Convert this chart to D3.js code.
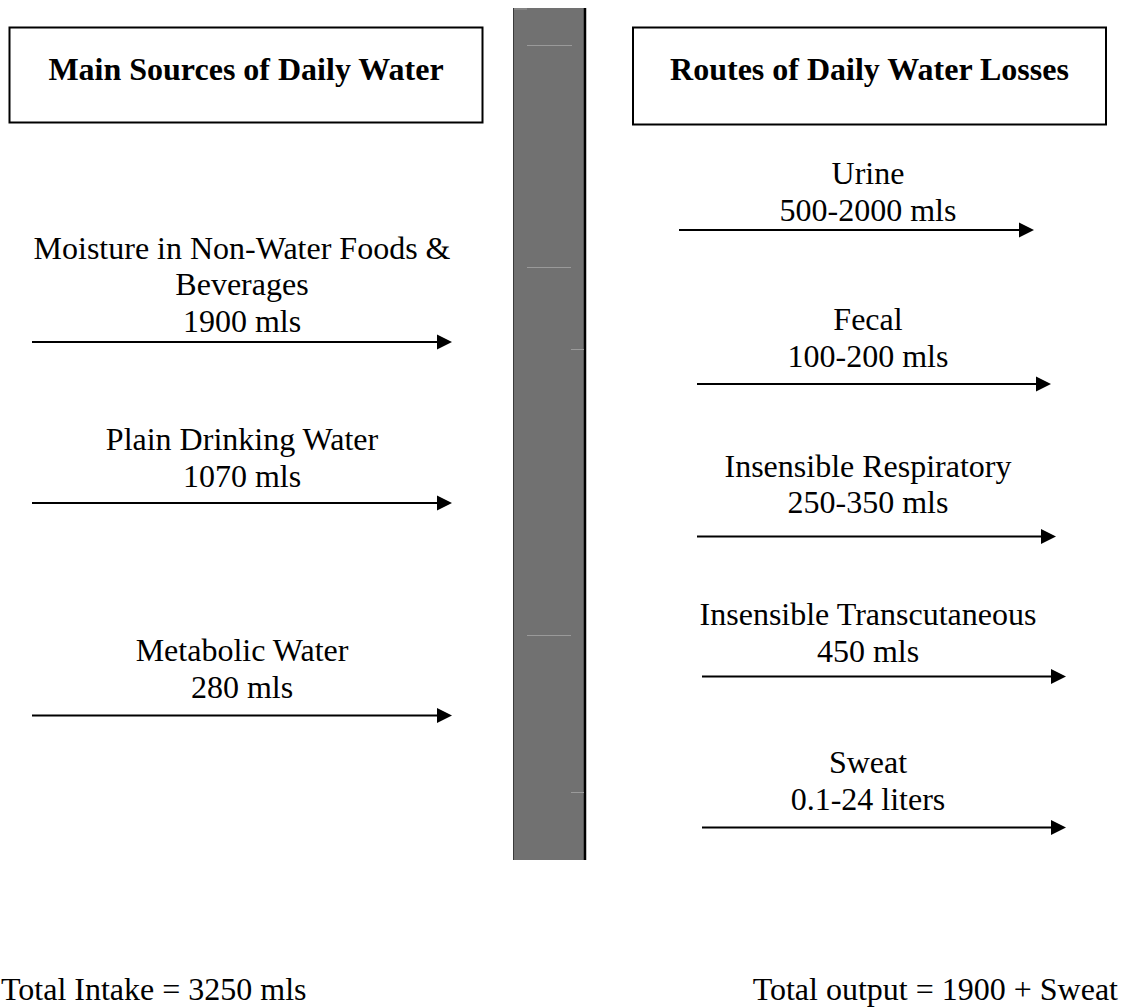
<!DOCTYPE html>
<html>
<head>
<meta charset="utf-8">
<script src="https://cdn.jsdelivr.net/npm/d3@7"></script>
<style>
  html, body { margin: 0; padding: 0; background: #fff; }
  svg { display: block; }
  text { font-family: "Liberation Serif", "Times New Roman", serif; fill: #000; }
</style>
</head>
<body>
<div id="chart"></div>
<script>
// ---------- data ----------
const sourceTitle = "Main Sources of Daily Water";
const lossTitle = "Routes of Daily Water Losses";
const sourceLabels = [["Moisture in Non-Water Foods &", "Beverages"], ["Plain Drinking Water"], ["Metabolic Water"]];
const sourceAmounts = ["1900 mls", "1070 mls", "280 mls"];
const lossLabels = [["Urine"], ["Fecal"], ["Insensible Respiratory"], ["Insensible Transcutaneous"], ["Sweat"]];
const lossAmounts = ["500-2000 mls", "100-200 mls", "250-350 mls", "450 mls", "0.1-24 liters"];
const totalIntake = "Total Intake = 3250 mls";
const totalOutput = "Total output = 1900 + Sweat";

// ---------- layout ----------
const W = 1126, H = 1008;
const FS = 32, LH = 36.7;
// row positions (arrow baselines) expressed in a layout unit space
const sourceRowSlots = [0, 1, 2.32];
const lossRowSlots = [0, 1.0, 1.99, 2.9, 3.88];
const sourceY = d3.scaleLinear().domain([0, 1]).range([342, 503]);
const lossY = d3.scaleLinear().domain([0, 1]).range([230, 384]);
const lossX = [[679, 1034], [697, 1051], [697, 1056], [702, 1066], [702, 1066]];
const textGap = [10, 16, 18];
const lossTextGap = [9, 17, 23, 15, 18];

const svg = d3.select("#chart").append("svg")
  .attr("width", W).attr("height", H).attr("viewBox", `0 0 ${W} ${H}`);

// ---------- central bar ----------
const bar = svg.append("g");
bar.append("rect").attr("x", 513).attr("y", 8).attr("width", 71).attr("height", 852).attr("fill", "#717171");
bar.append("line").attr("x1", 513.5).attr("x2", 513.5).attr("y1", 8).attr("y2", 860).attr("stroke", "#3a3a3a").attr("stroke-width", 1);
bar.append("line").attr("x1", 585).attr("x2", 585).attr("y1", 8).attr("y2", 860).attr("stroke", "#000").attr("stroke-width", 2.5);
const faint = [[514, 527, 8.5], [527, 572, 45], [527, 571, 267], [571, 584, 349], [527, 571, 635], [571, 584, 792]];
bar.selectAll("line.faint").data(faint).join("line").attr("class", "faint")
  .attr("x1", d => d[0]).attr("x2", d => d[1]).attr("y1", d => d[2] + 0.5).attr("y2", d => d[2] + 0.5)
  .attr("stroke", "#9a9a9a").attr("stroke-width", 1);

// ---------- title boxes ----------
const boxes = [
  { title: sourceTitle, x: 9.5, y: 27.5, w: 473, h: 95 },
  { title: lossTitle, x: 633, y: 27.5, w: 473, h: 97 }
];
const bg = svg.selectAll("g.box").data(boxes).join("g").attr("class", "box");
bg.append("rect").attr("x", d => d.x).attr("y", d => d.y).attr("width", d => d.w).attr("height", d => d.h)
  .attr("fill", "#fff").attr("stroke", "#000").attr("stroke-width", 2);
bg.append("text").attr("x", d => d.x + d.w / 2).attr("y", d => d.y + 52)
  .attr("text-anchor", "middle").attr("font-weight", "bold").attr("font-size", FS)
  .text(d => d.title);

// ---------- arrows ----------
function arrow(g, x1, x2, y) {
  g.append("line").attr("x1", x1).attr("x2", x2 - 14).attr("y1", y).attr("y2", y)
    .attr("stroke", "#000").attr("stroke-width", 2);
  g.append("path").attr("d", `M${x2 - 15},${y - 7.5}L${x2},${y}L${x2 - 15},${y + 7.5}Z`).attr("fill", "#000");
}

function block(g, cx, ay, gap, lines) {
  const n = lines.length;
  lines.forEach((t, i) => {
    g.append("text").attr("x", cx).attr("y", ay - gap - (n - 1 - i) * LH)
      .attr("text-anchor", "middle").attr("font-size", FS).text(t);
  });
}

const left = svg.append("g");
sourceLabels.forEach((lab, i) => {
  const y = sourceY(sourceRowSlots[i]);
  arrow(left, 32, 452, y);
  block(left, 242, y, textGap[i], [...lab, sourceAmounts[i]]);
});

const right = svg.append("g");
lossLabels.forEach((lab, i) => {
  const y = lossY(lossRowSlots[i]);
  arrow(right, lossX[i][0], lossX[i][1], y);
  block(right, 868, y, lossTextGap[i], [...lab, lossAmounts[i]]);
});

// ---------- totals ----------
svg.append("text").attr("x", 1).attr("y", 1000).attr("font-size", FS).text(totalIntake);
svg.append("text").attr("x", 1118).attr("y", 1000).attr("text-anchor", "end").attr("font-size", FS).text(totalOutput);
</script>
</body>
</html>
